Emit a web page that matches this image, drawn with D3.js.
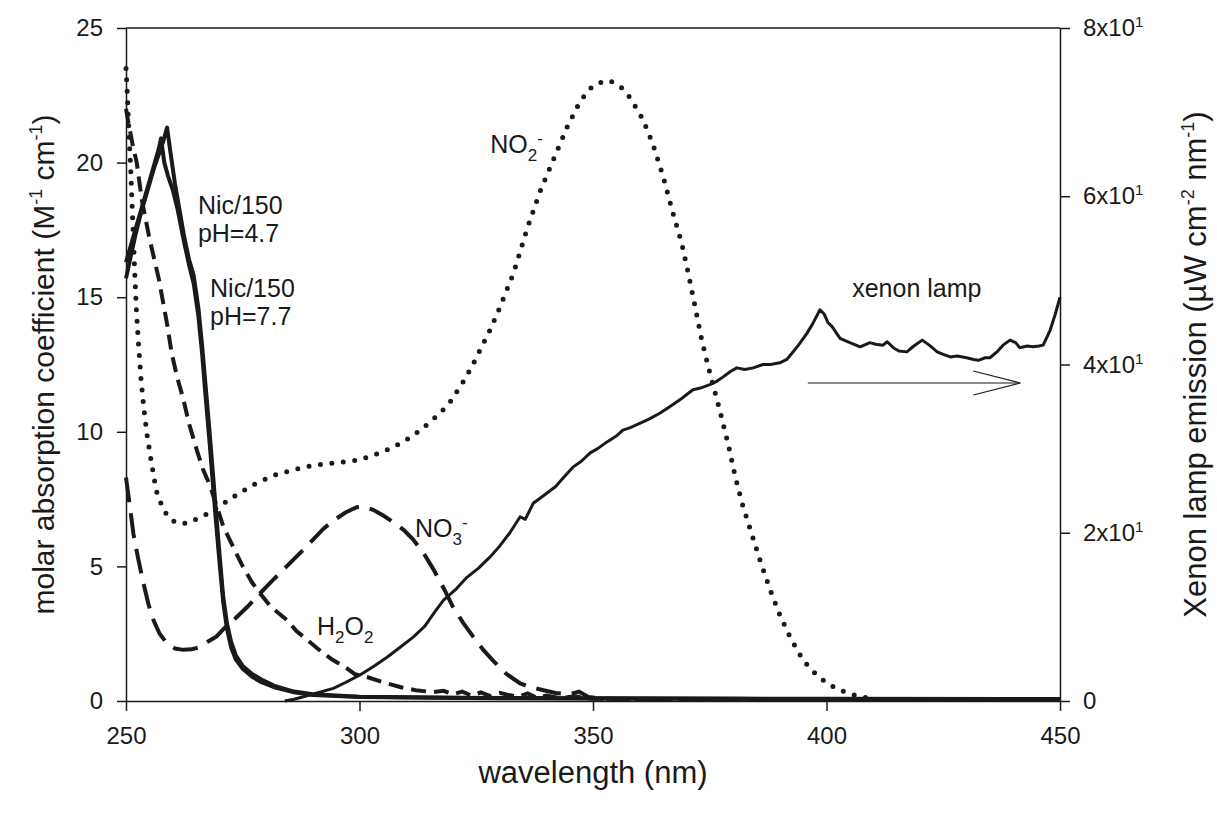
<!DOCTYPE html>
<html>
<head>
<meta charset="utf-8">
<script src="https://cdn.jsdelivr.net/npm/d3@7"></script>
<style>
  body { margin: 0; background: #fff; }
  text { font-family: "Liberation Sans", Arial, sans-serif; fill: #1a1a1a; }
</style>
</head>
<body>
<div id="graph"></div>
<script>
// --- Data ---
const xTicks = [250, 300, 350, 400, 450];
const yLeftTicks = [0, 5, 10, 15, 20, 25];
const yRightTicks = [0, 20, 40, 60, 80];
const yRightLabels = ["0", "2x10", "4x10", "6x10", "8x10"];

// Nic/150 pH=4.7 (thick solid)
const wlNic47 = [250, 251, 252, 253, 254, 255, 256, 257, 258, 258.8, 259.5, 260.5, 261.5, 262.5, 263.5, 264.5, 265.5, 266.3, 267, 267.8, 268.5, 269.2, 270, 270.8, 271.6, 272.5, 273.5, 275, 277, 279, 282, 286, 290, 300, 320, 350, 400, 450];
const absNic47 = [15.7, 16.5, 17.3, 18.0, 18.6, 19.2, 19.8, 20.3, 20.8, 21.3, 20.4, 19.2, 18.2, 17.2, 16.4, 15.8, 14.6, 13.2, 11.8, 10.2, 8.7, 7.2, 5.5, 3.9, 2.9, 2.2, 1.7, 1.3, 1.0, 0.8, 0.55, 0.35, 0.25, 0.16, 0.12, 0.1, 0.08, 0.07];

// Nic/150 pH=7.7 (thick solid)
const wlNic77 = [250, 251, 252, 253, 254, 255, 256, 257, 257.5, 258.2, 259, 260, 261, 262.5, 263.5, 264.5, 265.5, 266.3, 267, 267.8, 268.5, 269.2, 270, 270.8, 271.6, 272.5, 273.5, 275, 277, 279, 282, 286, 290, 300, 330, 380, 450];
const absNic77 = [16.3, 16.9, 17.5, 18.1, 18.7, 19.3, 19.9, 20.5, 20.9, 20.0, 19.5, 19.0, 18.3, 17.0, 16.2, 15.5, 14.3, 12.9, 11.4, 9.8, 8.3, 6.8, 5.2, 3.7, 2.7, 2.0, 1.55, 1.2, 0.9, 0.7, 0.5, 0.32, 0.22, 0.15, 0.1, 0.08, 0.06];

// H2O2 (short dashes)
const wlH2O2 = [250, 250.5, 251.5, 252.3, 253.4, 255, 257, 258.8, 259.8, 261, 262.3, 263.5, 265.2, 266.5, 268, 269.5, 270.8, 273, 275, 277, 278.7, 281, 284.5, 286.5, 288.8, 291, 294.3, 297, 299, 301.6, 305, 308.7, 312, 315.7, 318, 320, 322, 324, 326, 328, 330, 332, 334, 336, 338, 340, 343, 346, 350, 370, 400, 450];
const absH2O2 = [22.0, 21.5, 20.6, 20.0, 18.6, 17.2, 15.7, 14.0, 12.9, 12.0, 11.2, 10.3, 9.3, 8.6, 8.0, 7.2, 6.5, 5.7, 5.0, 4.4, 4.0, 3.5, 3.0, 2.6, 2.27, 1.95, 1.52, 1.25, 1.0, 0.89, 0.7, 0.52, 0.4, 0.33, 0.38, 0.25, 0.35, 0.2, 0.32, 0.18, 0.3, 0.22, 0.15, 0.28, 0.12, 0.2, 0.1, 0.18, 0.08, 0.07, 0.06, 0.05];

// NO3- (long dashes)
const wlNO3 = [250, 251, 251.6, 252.6, 253.7, 254.8, 255.9, 257.2, 258.7, 260.5, 262.3, 264, 265.8, 267.5, 269.4, 271, 273, 276, 278.7, 281.5, 284.4, 287.3, 290.1, 292.3, 294.4, 297, 299.4, 301, 302.9, 305, 307.2, 309.5, 311.5, 313.7, 315.8, 318, 320, 322.2, 324.3, 326.5, 328.6, 331.5, 334.4, 337, 339.4, 342, 345, 347, 349, 352, 370, 400, 450];
const absNO3 = [8.3, 7.0, 6.2, 5.3, 4.4, 3.6, 3.0, 2.5, 2.15, 1.95, 1.9, 1.92, 2.0, 2.2, 2.4, 2.7, 3.0, 3.5, 4.0, 4.5, 5.0, 5.5, 6.0, 6.4, 6.7, 7.0, 7.2, 7.22, 7.1, 6.9, 6.65, 6.35, 6.0, 5.5, 4.9, 4.2, 3.5, 2.9, 2.4, 1.9, 1.5, 1.0, 0.65, 0.5, 0.4, 0.3, 0.25, 0.35, 0.15, 0.08, 0.06, 0.05, 0.05];

// NO2- (dotted)
const wlNO2 = [250, 250.3, 250.6, 251, 251.4, 251.8, 252.2, 252.7, 253.2, 253.8, 254.5, 255.4, 256.5, 258, 259.5, 261, 263, 265, 268, 271, 274, 278, 282, 286, 290, 295, 300, 304, 307, 310, 313, 316, 319, 322, 324, 326, 328, 330, 333, 336, 338.6, 341.5, 344.4, 347, 349, 351, 353.5, 356, 358, 360.7, 362.8, 365, 367, 369, 370.4, 371.8, 373.3, 375, 377, 379, 380.5, 382, 384, 386, 388, 390, 392, 394, 396, 398, 400, 402, 404, 406, 408, 410];
const absNO2 = [23.5, 22.5, 21.2, 19.8, 18.0, 16.2, 14.6, 13.2, 12.0, 10.9, 9.9, 8.9, 7.8, 7.1, 6.75, 6.6, 6.6, 6.75, 7.0, 7.35, 7.7, 8.1, 8.4, 8.6, 8.75, 8.85, 8.95, 9.2, 9.4, 9.7, 10.05, 10.5, 11.0, 11.8, 12.4, 13.1, 13.8, 14.6, 15.9, 17.6, 18.9, 20.1, 21.3, 22.2, 22.7, 22.95, 23.05, 22.8, 22.4, 21.6, 20.7, 19.5, 18.2, 17.0, 15.9, 14.7, 13.4, 12.2, 10.9, 9.5, 8.3, 7.3, 6.2, 5.1, 4.1, 3.2, 2.45, 1.8, 1.3, 0.95, 0.68, 0.48, 0.33, 0.22, 0.14, 0.08];

// Xenon lamp emission (thin solid, right axis)
const wlXenon = [284, 286, 288, 290.9, 294.4, 297, 300.1, 303, 305.9, 308.5, 311.5, 314, 316, 318, 320.5, 323, 325.5, 327.9, 330, 332.2, 334.4, 335.5, 337.2, 340.1, 342, 343.6, 345.7, 347.5, 349.4, 351, 353, 355, 356.4, 358, 360, 362, 364.3, 366.5, 368.6, 370, 371.4, 373, 375, 376.5, 377.8, 379.5, 380.8, 382.5, 384.3, 386.4, 388, 390, 391.5, 393, 394, 395.8, 397, 398.6, 399.5, 400.3, 401.2, 402.9, 405, 407.2, 409.3, 410.5, 412.1, 413, 414.3, 415.5, 417.2, 418.7, 420.5, 422, 423.7, 425, 426.5, 428, 430, 431.5, 432.5, 434, 435, 436.5, 437.8, 439.3, 440.5, 441.4, 443, 444.2, 445.5, 446.4, 447.9, 449, 450];
const emXenon = [0.0, 0.2, 0.5, 0.95, 1.5, 2.2, 3.1, 4.1, 5.2, 6.3, 7.6, 8.9, 10.5, 12.0, 13.2, 14.7, 15.8, 17.1, 18.4, 20.0, 21.9, 21.6, 23.5, 24.7, 25.5, 26.5, 27.8, 28.5, 29.5, 30.0, 30.8, 31.5, 32.2, 32.5, 33.0, 33.5, 34.2, 35.0, 35.8, 36.4, 37.0, 37.2, 37.6, 38.0, 38.5, 39.2, 39.6, 39.4, 39.6, 40.0, 40.0, 40.2, 40.6, 41.6, 42.3, 43.7, 44.8, 46.5, 46.0, 45.0, 44.5, 43.1, 42.6, 42.1, 42.6, 42.4, 42.3, 42.7, 42.0, 41.6, 41.5, 42.2, 42.9, 42.3, 41.5, 41.2, 40.9, 41.0, 40.8, 40.6, 40.5, 40.8, 40.8, 41.5, 42.3, 42.9, 42.6, 42.0, 42.2, 42.1, 42.2, 42.3, 44.1, 46.0, 48.0];

// Arrow under the xenon label (wavelength span, right-axis value)
const arrowWl = [396, 441.5];
const arrowEm = 37.8;

// --- Rendering ---
const width = 1217, height = 813;
const margin = { top: 28, right: 157, bottom: 112, left: 126 };

const svg = d3.select("#graph").append("svg")
    .attr("width", width)
    .attr("height", height);

const x = d3.scaleLinear().domain([250, 450]).range([margin.left, width - margin.right]);
const yL = d3.scaleLinear().domain([0, 25]).range([height - margin.bottom, margin.top]);
const yR = d3.scaleLinear().domain([0, 80]).range([height - margin.bottom, margin.top]);

const lineL = d3.line().x(d => x(d[0])).y(d => yL(d[1]));
const lineR = d3.line().x(d => x(d[0])).y(d => yR(d[1]));
const zip = (a, b) => a.map((v, i) => [v, b[i]]);

const ink = "#1a1a1a";

// curves
svg.append("path").datum(zip(wlNO2, absNO2))
    .attr("fill", "none").attr("stroke", ink).attr("stroke-width", 5)
    .attr("stroke-linecap", "round").attr("stroke-dasharray", "0 11.5")
    .attr("d", lineL);

svg.append("path").datum(zip(wlNO3, absNO3))
    .attr("fill", "none").attr("stroke", ink).attr("stroke-width", 4)
    .attr("stroke-dasharray", "25 11")
    .attr("d", lineL);

svg.append("path").datum(zip(wlH2O2, absH2O2))
    .attr("fill", "none").attr("stroke", ink).attr("stroke-width", 4)
    .attr("stroke-dasharray", "15 8")
    .attr("d", lineL);

svg.append("path").datum(zip(wlXenon, emXenon))
    .attr("fill", "none").attr("stroke", ink).attr("stroke-width", 3)
    .attr("stroke-linejoin", "round")
    .attr("d", lineR);

[[wlNic77, absNic77], [wlNic47, absNic47]].forEach(([w, a]) => {
    svg.append("path").datum(zip(w, a))
        .attr("fill", "none").attr("stroke", ink).attr("stroke-width", 4)
        .attr("stroke-linejoin", "round")
        .attr("d", lineL);
});

// frame top
svg.append("line")
    .attr("x1", x(250)).attr("x2", x(450)).attr("y1", yL(25)).attr("y2", yL(25))
    .attr("stroke", ink).attr("stroke-width", 1.5);

// axes
const fontSize = "24px";
const gx = svg.append("g")
    .attr("transform", `translate(0,${yL(0)})`)
    .call(d3.axisBottom(x).tickValues(xTicks).tickSize(10).tickPadding(16).tickSizeOuter(0));
const gl = svg.append("g")
    .attr("transform", `translate(${x(250)},0)`)
    .call(d3.axisLeft(yL).tickValues(yLeftTicks).tickSize(9).tickPadding(14).tickSizeOuter(0));
const gr = svg.append("g")
    .attr("transform", `translate(${x(450)},0)`)
    .call(d3.axisRight(yR).tickValues(yRightTicks).tickSize(10).tickPadding(13).tickSizeOuter(0)
        .tickFormat((d, i) => yRightLabels[i]));

[gx, gl, gr].forEach(g => {
    g.select(".domain").attr("stroke", ink).attr("stroke-width", 1.5);
    g.selectAll(".tick line").attr("stroke", ink).attr("stroke-width", 1.5);
    g.selectAll("text").style("font-size", fontSize).style("font-family", "Liberation Sans, Arial, sans-serif").attr("fill", ink);
});
// superscript 1 on right labels
gr.selectAll(".tick text").each(function(d, i) {
    if (i > 0) {
        d3.select(this).append("tspan").attr("dy", -9).style("font-size", "15px").text("1");
    }
});

// axis titles
svg.append("text")
    .attr("x", (x(250) + x(450)) / 2 + 0).attr("y", 783)
    .attr("text-anchor", "middle").style("font-size", "31px")
    .text("wavelength (nm)");

const tl = svg.append("text")
    .attr("transform", `translate(54,${(yL(0) + yL(25)) / 2}) rotate(-90)`)
    .attr("text-anchor", "middle").style("font-size", "30px");
tl.append("tspan").text("molar absorption coefficient (M");
tl.append("tspan").attr("dy", -12).style("font-size", "18px").text("-1");
tl.append("tspan").attr("dy", 12).text(" cm");
tl.append("tspan").attr("dy", -12).style("font-size", "18px").text("-1");
tl.append("tspan").attr("dy", 12).text(")");

const tr = svg.append("text")
    .attr("transform", `translate(1206,${(yL(0) + yL(25)) / 2}) rotate(-90)`)
    .attr("text-anchor", "middle").style("font-size", "31px");
tr.append("tspan").text("Xenon lamp emission (\u00B5W cm");
tr.append("tspan").attr("dy", -12).style("font-size", "18px").text("-2");
tr.append("tspan").attr("dy", 12).text(" nm");
tr.append("tspan").attr("dy", -12).style("font-size", "18px").text("-1");
tr.append("tspan").attr("dy", 12).text(")");

// curve labels
const lab = 25;
function twoLine(wl, v, l1, l2) {
    const t = svg.append("text").attr("x", x(wl)).attr("y", yL(v)).style("font-size", lab + "px");
    t.append("tspan").text(l1);
    t.append("tspan").attr("x", x(wl)).attr("dy", 28).text(l2);
}
twoLine(265.4, 18.1, "Nic/150", "pH=4.7");
twoLine(268.0, 15.0, "Nic/150", "pH=7.7");

function chem(wl, v, parts) {
    const t = svg.append("text").attr("x", x(wl)).attr("y", yL(v)).style("font-size", lab + "px");
    parts.forEach(p => {
        const s = t.append("tspan").text(p.t);
        if (p.sub) s.attr("dy", 8).style("font-size", "17px");
        if (p.sup) s.attr("dy", -17).style("font-size", "17px");
        if (p.back) s.attr("dy", p.back);
    });
}
chem(328.0, 20.35, [{ t: "NO" }, { t: "2", sub: true }, { t: "-", sup: true }]);
chem(311.9, 6.1, [{ t: "NO" }, { t: "3", sub: true }, { t: "-", sup: true }]);
chem(290.9, 2.45, [{ t: "H" }, { t: "2", sub: true }, { t: "O", back: -8 }, { t: "2", sub: true }]);

svg.append("text").attr("x", x(405.5)).attr("y", yL(15.0)).style("font-size", lab + "px").text("xenon lamp");

// arrow towards right axis
const ay = yR(arrowEm);
svg.append("line")
    .attr("x1", x(arrowWl[0])).attr("x2", x(arrowWl[1])).attr("y1", ay).attr("y2", ay)
    .attr("stroke", ink).attr("stroke-width", 1.2);
svg.append("path")
    .attr("d", `M${x(arrowWl[1]) - 47},${ay - 12} L${x(arrowWl[1])},${ay} L${x(arrowWl[1]) - 47},${ay + 12}`)
    .attr("fill", "none").attr("stroke", ink).attr("stroke-width", 1.2);
</script>
</body>
</html>
